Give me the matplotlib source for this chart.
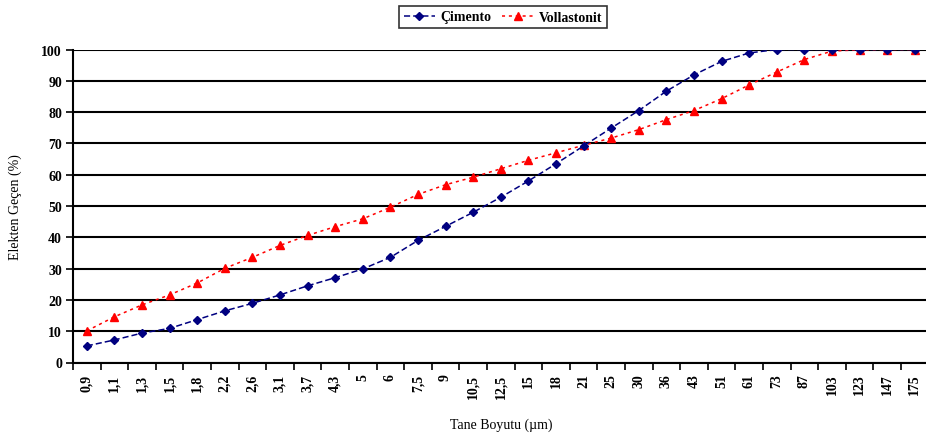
import matplotlib
matplotlib.use("Agg")
import matplotlib.pyplot as plt
import numpy as np

sizes = ["0,9", "1,1", "1,3", "1,5", "1,8", "2,2", "2,6", "3,1", "3,7", "4,3",
         "5", "6", "7,5", "9", "10,5", "12,5", "15", "18", "21", "25",
         "30", "36", "43", "51", "61", "73", "87", "103", "123", "147", "175"]

cimento = [5.3, 7.2, 9.4, 10.9, 13.7, 16.5, 18.9, 21.6, 24.5, 27.1,
           29.9, 33.6, 39.0, 43.5, 48.0, 52.8, 58.0, 63.5, 69.2, 74.9,
           80.5, 86.7, 91.9, 96.2, 98.9, 100, 100, 100, 100, 100, 100]

vollastonit = [10.1, 14.6, 18.4, 21.6, 25.4, 30.1, 33.6, 37.4, 40.6, 43.4,
               45.9, 49.6, 53.7, 56.8, 59.2, 61.9, 64.6, 67.0, 69.4, 71.7,
               74.4, 77.6, 80.5, 84.3, 88.7, 92.8, 96.8, 99.5, 99.9, 100, 100]

yticks = list(range(0, 101, 10))

plt.rcParams['font.family'] = ['Liberation Serif', 'DejaVu Serif']

W, H = 926, 439
fig = plt.figure(figsize=(W / 100, H / 100), dpi=100)
ax = fig.add_axes([73 / W, 1 - 363.5 / H, 857 / W, (363.5 - 50.5) / H])

x = np.arange(len(sizes))
ax.plot(x, cimento, color='#000080', linestyle=(0, (4, 2)), linewidth=1.1,
        marker='D', markersize=4.5, label='Çimento', zorder=4)
ax.plot(x, vollastonit, color='#ff0000', linestyle=(0, (2, 2.5)), linewidth=1.1,
        marker='^', markersize=6, label='Vollastonit', zorder=3)

ax.set_xlim(-0.45, len(sizes) - 0.45)
ax.set_ylim(0, 100)
ax.set_yticks(yticks)
ax.set_yticklabels([str(v) for v in yticks], fontsize=10, fontweight='bold')
ax.yaxis.grid(True, color='black', linewidth=1.5)
ax.set_axisbelow(True)

ax.set_xticks(x)
ax.set_xticklabels(sizes, rotation=90, fontsize=10, fontweight='bold')
ax.set_xticks(np.arange(-0.5, len(sizes) + 0.5, 1), minor=True)
ax.tick_params(axis='x', which='major', length=0, pad=8)
ax.tick_params(axis='x', which='minor', length=5, width=1.2, direction='out')
ax.tick_params(axis='y', length=5, width=1.2, direction='out', pad=3)

for s in ['top', 'right']:
    ax.spines[s].set_visible(False)
for s in ['left', 'bottom']:
    ax.spines[s].set_linewidth(1.5)
    ax.spines[s].set_color('black')

ax.set_ylabel('Elekten Geçen (%)', fontsize=10, labelpad=10)
ax.set_xlabel('Tane Boyutu (µm)', fontsize=10, labelpad=14)
ax.yaxis.set_label_coords(-51 / 857, 0.5)

leg = fig.legend(loc='center', bbox_to_anchor=(503 / W, 1 - 18 / H), ncol=2,
                 frameon=True, fancybox=False, edgecolor='black', fontsize=10,
                 handlelength=2.2, handletextpad=0.4, columnspacing=0.8,
                 borderpad=0.35)
leg.get_frame().set_linewidth(1.2)
for t in leg.get_texts():
    t.set_fontweight('bold')

fig.savefig('out.png', dpi=100)
